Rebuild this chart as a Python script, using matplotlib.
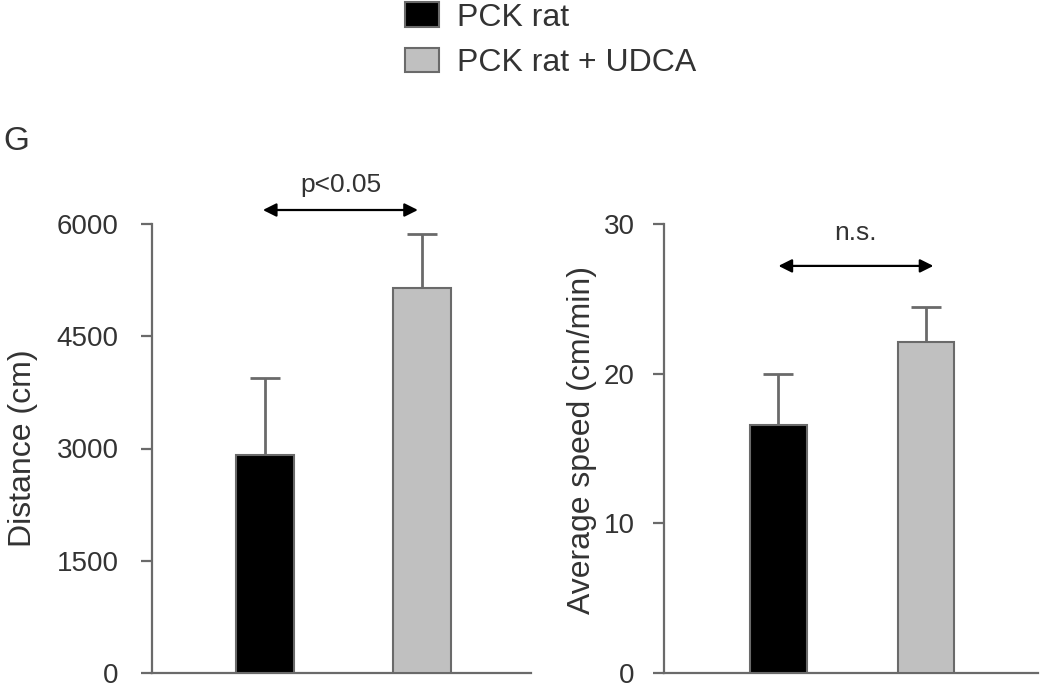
import numpy as np
import matplotlib
matplotlib.use("Agg")
import matplotlib.pyplot as plt
from matplotlib.patches import Patch

plt.rcParams["font.family"] = ["Liberation Sans", "DejaVu Sans"]

# data
groups = ["PCK rat", "PCK rat + UDCA"]
colors = ["#000000", "#c0c0c0"]
distance = [2910, 5140]
distance_err = [1035, 720]
speed = [16.6, 22.1]
speed_err = [3.4, 2.35]
distance_ticks = [0, 1500, 3000, 4500, 6000]
speed_ticks = [0, 10, 20, 30]

spine_col = "#6a6a6a"
txt_col = "#333333"

fig = plt.figure(figsize=(10.5, 6.88), dpi=100)
ax1 = fig.add_axes([152 / 1050, 15 / 688, 379 / 1050, 449 / 688])
ax2 = fig.add_axes([664 / 1050, 15 / 688, 374 / 1050, 449 / 688])


def draw_panel(ax, vals, errs, ticks, width, xlim, label, label_xy, sig, sig_y, txt_y, arrow_x, pad):
    x = np.arange(len(vals))
    ax.bar(x, vals, width=width, color=colors, edgecolor=spine_col, linewidth=1.5, zorder=3)
    ax.errorbar(x, vals, yerr=[np.zeros(len(errs)), errs], fmt="none",
                ecolor=spine_col, elinewidth=2, capsize=11, capthick=2, zorder=2)
    ax.set_xlim(*xlim)
    ax.set_ylim(ticks[0], ticks[-1])
    ax.set_yticks(ticks)
    ax.set_xticks([])
    for s in ["top", "right"]:
        ax.spines[s].set_visible(False)
    for s in ["left", "bottom"]:
        ax.spines[s].set_color(spine_col)
        ax.spines[s].set_linewidth(1.6)
    ax.tick_params(axis="y", length=8, width=1.6, color=spine_col, labelsize=20,
                   labelcolor=txt_col, pad=pad)
    ax.set_ylabel(label, fontsize=23, color=txt_col)
    ax.yaxis.set_label_coords(*label_xy)
    ax.annotate("", xy=(arrow_x[1], sig_y), xytext=(arrow_x[0], sig_y),
                arrowprops=dict(arrowstyle="<|-|>", color="black", lw=1.6,
                                mutation_scale=20, shrinkA=0, shrinkB=0),
                annotation_clip=False)
    ax.text(np.mean(arrow_x), txt_y, sig, ha="center", va="center",
            fontsize=19, color=txt_col, clip_on=False)


draw_panel(ax1, distance, distance_err, distance_ticks, 0.368, (-0.717, 1.689),
           "Distance (cm)", (-0.30, 0.5), "p<0.05", 6187, 6520, (-0.013, 0.971), 16)
draw_panel(ax2, speed, speed_err, speed_ticks, 0.386, (-0.776, 1.759),
           "Average speed (cm/min)", (-0.18, 0.52), "n.s.", 27.2, 29.4, (0.0, 1.05), 13)

# legend at the top
handles = [Patch(facecolor=c, edgecolor=spine_col, linewidth=1.5) for c in colors]
fig.legend(handles, groups, loc="upper left", bbox_to_anchor=(405 / 1050, 1 - 2 / 688),
           frameon=False, fontsize=23, handlelength=1.06, handleheight=0.82,
           handletextpad=0.56, labelspacing=0.47, borderpad=0, borderaxespad=0,
           labelcolor=txt_col)

fig.text(3 / 1050, 1 - 141 / 688, "G", fontsize=24, va="center", ha="left", color=txt_col)

fig.savefig("out.png", dpi=100)
